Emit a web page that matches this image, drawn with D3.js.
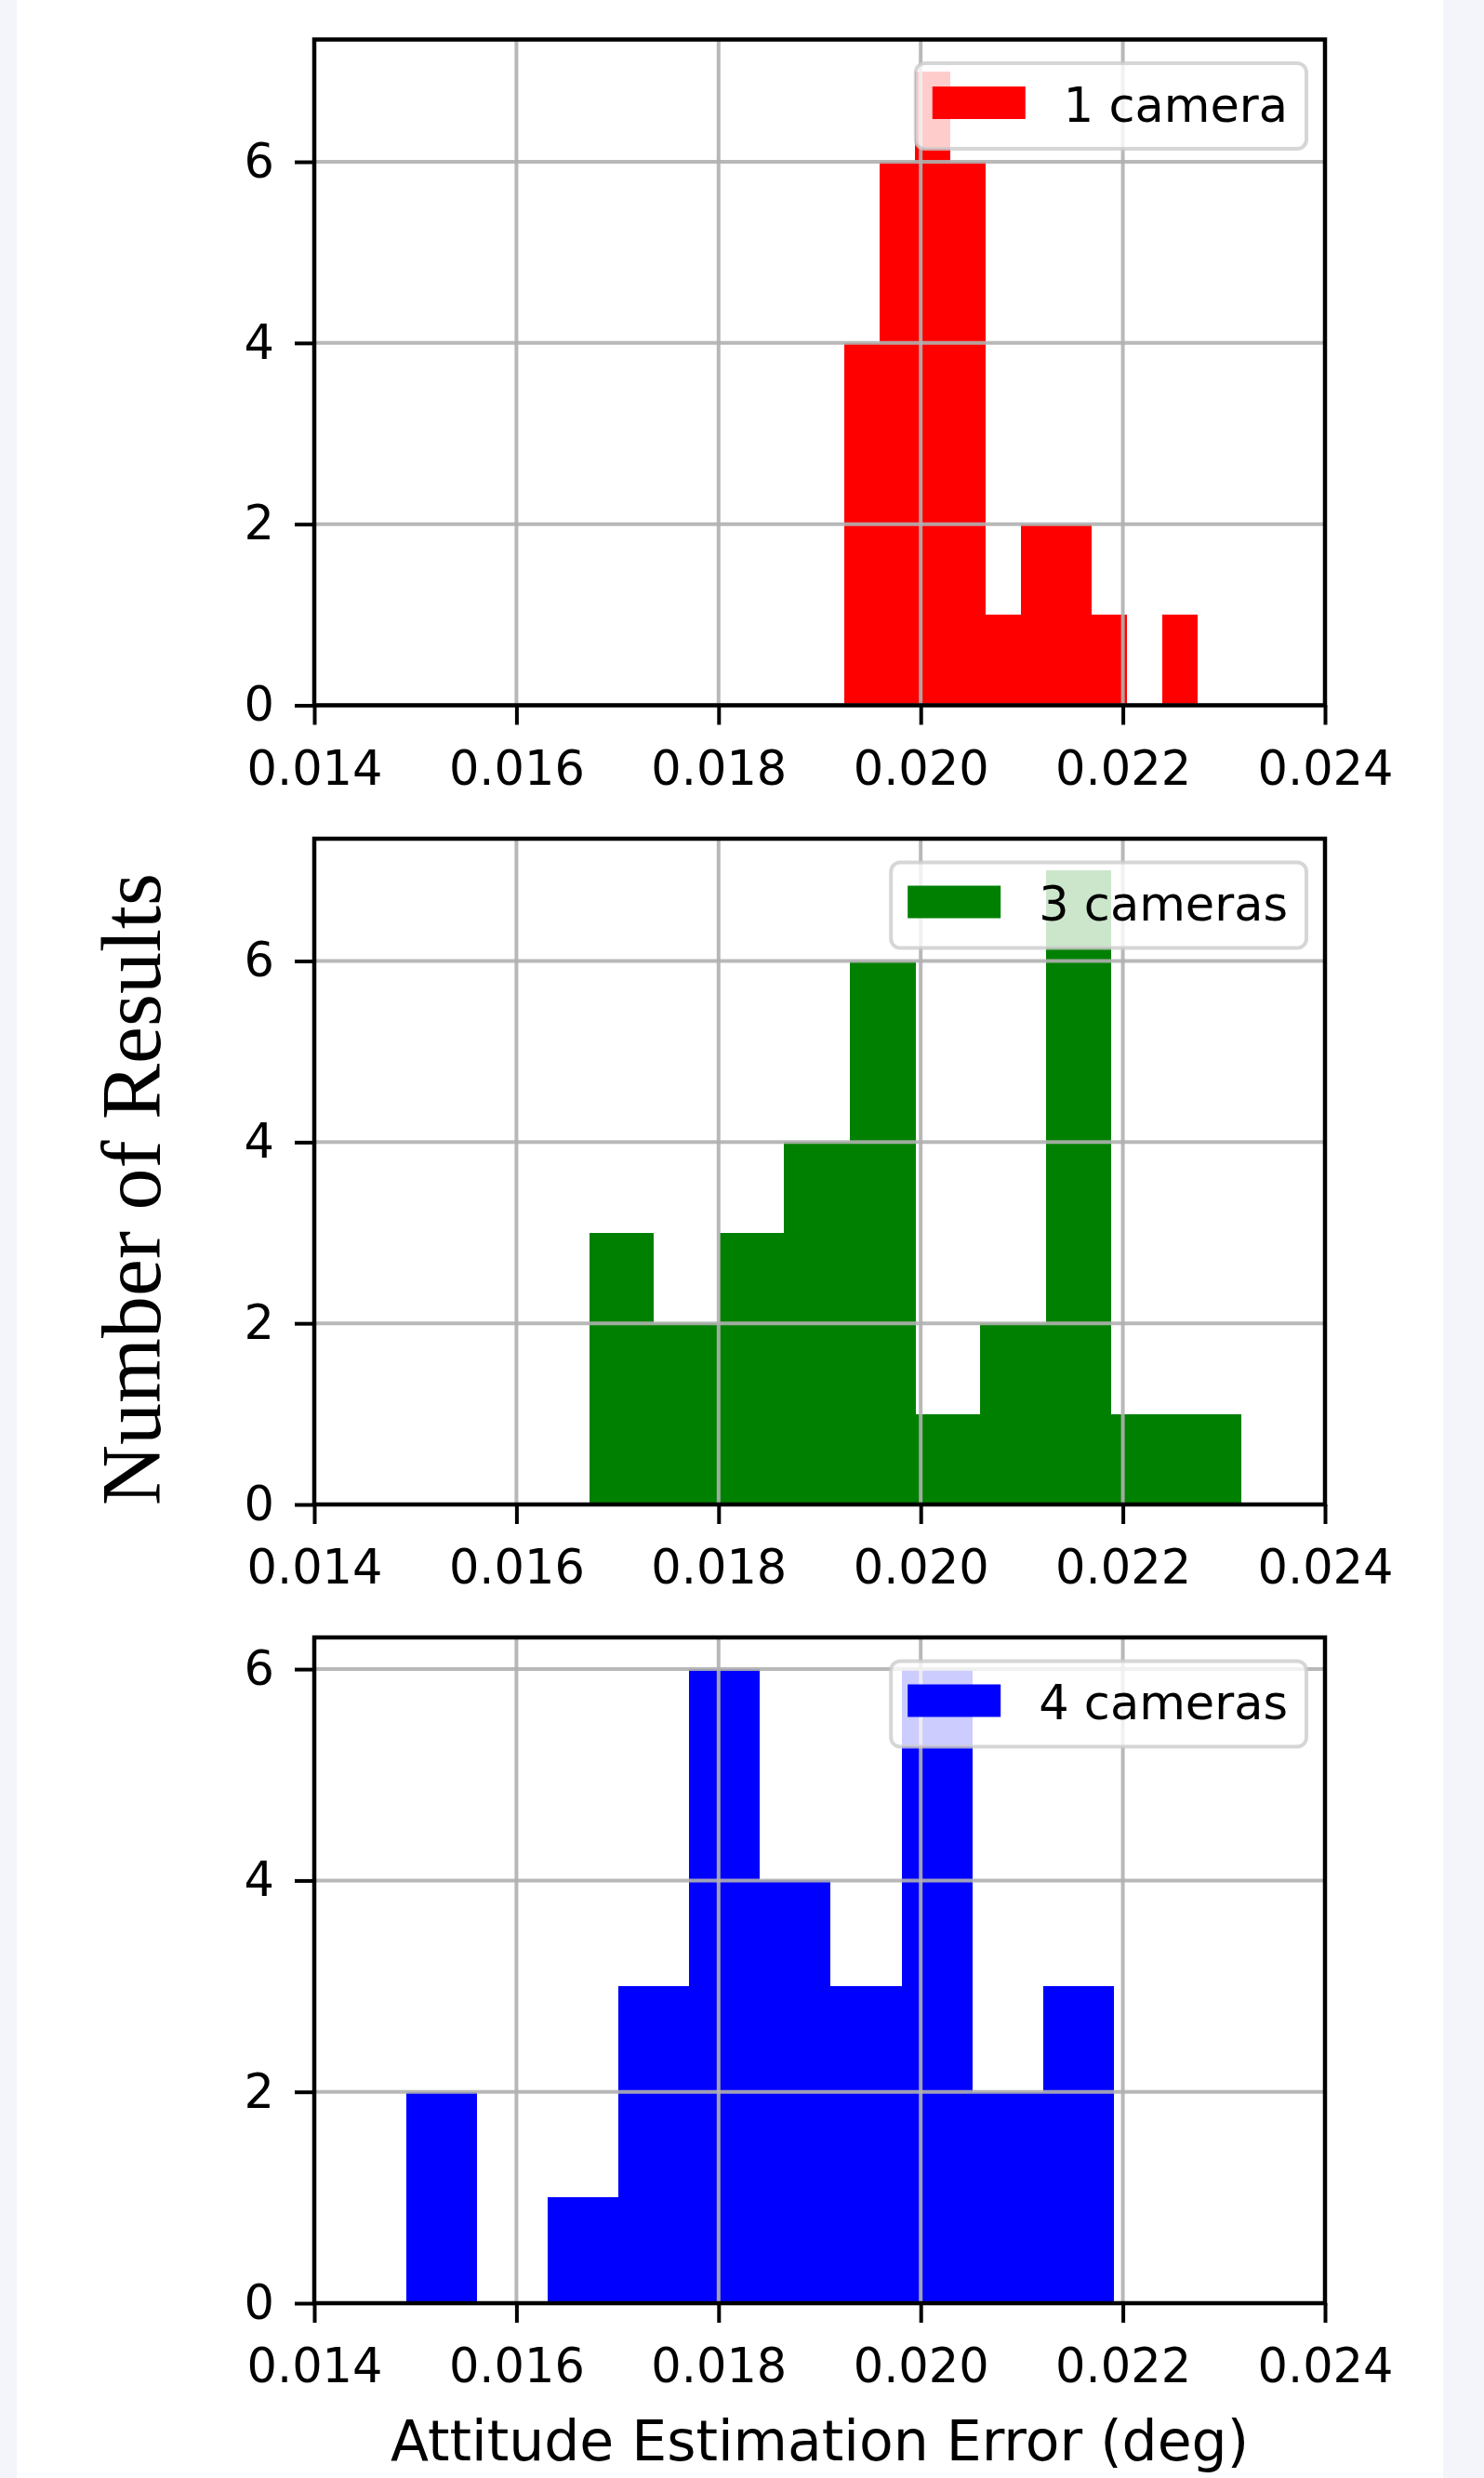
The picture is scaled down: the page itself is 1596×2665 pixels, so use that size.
<!DOCTYPE html>
<html>
<head>
<meta charset="utf-8">
<script src="https://cdnjs.cloudflare.com/ajax/libs/d3/7.8.5/d3.min.js"></script>
<style>
    body { margin: 0; background: #f3f5fb; }
    svg { display: block; }
</style>
</head>
<body>
<div id="graphs_container"></div>
<script>

// histogram bin edges (deg)
var oneCamEdges = [0.01924, 0.01959, 0.01994, 0.02029, 0.02064, 0.02099, 0.02134, 0.02169, 0.02204, 0.02239, 0.02274];
var threeCamEdges = [0.01672, 0.01736, 0.01801, 0.01865, 0.01930, 0.01995, 0.02059, 0.02124, 0.02188, 0.02253, 0.02317];
var fourCamEdges = [0.01491, 0.01561, 0.01631, 0.01701, 0.01771, 0.01841, 0.01911, 0.01981, 0.02051, 0.02121, 0.02191];

// counts per bin
var oneCamCounts = [4, 6, 7, 6, 1, 2, 2, 1, 0, 1];
var threeCamCounts = [3, 2, 3, 4, 6, 1, 2, 7, 1, 1];
var fourCamCounts = [2, 0, 1, 3, 6, 4, 3, 6, 2, 3];

var seriesLabels = ["1 camera", "3 cameras", "4 cameras"];
var seriesColors = ["#ff0000", "#008000", "#0000ff"];

var xTicks = [0.014, 0.016, 0.018, 0.020, 0.022, 0.024];
var yTicks = [0, 2, 4, 6];
var xDomain = [0.014, 0.024];

var xLabel = "Attitude Estimation Error (deg)";
var yLabel = "Number of Results";

var W = 1596, H = 2665;
var axLeft = 338, axWidth = 1087, axHeight = 716;
var axTops = [42.5, 902, 1761];
var tickFont = "'DejaVu Sans', sans-serif";

var svg = d3.select("#graphs_container").append("svg")
    .attr("width", W)
    .attr("height", H);

svg.append("rect")
    .attr("x", 18).attr("y", 0)
    .attr("width", 1534).attr("height", H)
    .attr("fill", "#ffffff");

function drawHist(idx, edges, counts) {
    var top = axTops[idx];
    var ymax = d3.max(counts) * 1.05;

    var x = d3.scaleLinear().domain(xDomain).range([axLeft, axLeft + axWidth]);
    var y = d3.scaleLinear().domain([0, ymax]).range([top + axHeight, top]);

    var g = svg.append("g");

    g.append("rect")
        .attr("x", axLeft).attr("y", top)
        .attr("width", axWidth).attr("height", axHeight)
        .attr("fill", "#ffffff");

    var bins = counts.map(function(c, i) {
        return {x0: edges[i], x1: edges[i + 1], count: c};
    });

    g.selectAll(".bar")
        .data(bins.filter(function(d) { return d.count > 0; }))
        .enter().append("rect")
        .attr("class", "bar")
        .attr("x", function(d) { return Math.round(x(d.x0)); })
        .attr("width", function(d) { return Math.round(x(d.x1)) - Math.round(x(d.x0)); })
        .attr("y", function(d) { return Math.round(y(d.count)); })
        .attr("height", function(d) { return Math.round(y(0)) - Math.round(y(d.count)); })
        .attr("shape-rendering", "crispEdges")
        .attr("fill", seriesColors[idx]);

    // grid over the bars, like the original
    g.selectAll(".vgrid")
        .data(xTicks)
        .enter().append("line")
        .attr("x1", function(d) { return x(d); })
        .attr("x2", function(d) { return x(d); })
        .attr("y1", top).attr("y2", top + axHeight)
        .attr("stroke", "#b0b0b0")
        .attr("stroke-opacity", 0.9)
        .attr("stroke-width", 4);

    g.selectAll(".hgrid")
        .data(yTicks)
        .enter().append("line")
        .attr("x1", axLeft).attr("x2", axLeft + axWidth)
        .attr("y1", function(d) { return y(d); })
        .attr("y2", function(d) { return y(d); })
        .attr("stroke", "#b0b0b0")
        .attr("stroke-opacity", 0.9)
        .attr("stroke-width", 4);

    // axes
    var xAxis = g.append("g")
        .attr("transform", "translate(0," + (top + axHeight) + ")")
        .call(d3.axisBottom(x).tickValues(xTicks).tickFormat(d3.format(".3f"))
            .tickSizeInner(21).tickSizeOuter(0).tickPadding(28));
    var yAxis = g.append("g")
        .attr("transform", "translate(" + axLeft + ",0)")
        .call(d3.axisLeft(y).tickValues(yTicks).tickFormat(d3.format("d"))
            .tickSizeInner(21).tickSizeOuter(0).tickPadding(22));

    [xAxis, yAxis].forEach(function(a) {
        a.select(".domain").remove();
        a.selectAll(".tick line").attr("stroke", "#000").attr("stroke-width", 4);
        a.selectAll(".tick text")
            .attr("fill", "#000")
            .style("font-family", tickFont)
            .style("font-size", "51px");
    });

    g.append("rect")
        .attr("x", axLeft).attr("y", top)
        .attr("width", axWidth).attr("height", axHeight)
        .attr("fill", "none")
        .attr("stroke", "#000")
        .attr("stroke-width", 4.5);

    // legend, upper right
    var leg = g.append("g");
    var legText = leg.append("text")
        .attr("font-family", tickFont)
        .attr("font-size", 51)
        .attr("fill", "#000")
        .text(seriesLabels[idx]);
    var tw = legText.node().getComputedTextLength();
    var boxW = 18 + 100 + 41 + tw + 20;
    var boxH = 92;
    var bx = axLeft + axWidth - 20 - boxW;
    var by = top + 25.5;

    leg.insert("rect", "text")
        .attr("x", bx).attr("y", by)
        .attr("width", boxW).attr("height", boxH)
        .attr("rx", 10).attr("ry", 10)
        .attr("fill", "#ffffff")
        .attr("fill-opacity", 0.8)
        .attr("stroke", "#cccccc")
        .attr("stroke-opacity", 0.8)
        .attr("stroke-width", 4);
    leg.insert("rect", "text")
        .attr("x", bx + 18).attr("y", by + 25)
        .attr("width", 100).attr("height", 35)
        .attr("fill", seriesColors[idx]);
    legText
        .attr("x", bx + 18 + 100 + 41)
        .attr("y", by + 62.5);
}

drawHist(0, oneCamEdges, oneCamCounts);
drawHist(1, threeCamEdges, threeCamCounts);
drawHist(2, fourCamEdges, fourCamCounts);

svg.append("text")
    .attr("x", axLeft + axWidth / 2)
    .attr("y", 2646)
    .attr("text-anchor", "middle")
    .attr("font-family", tickFont)
    .attr("font-size", 60)
    .attr("fill", "#000")
    .text(xLabel);

svg.append("text")
    .attr("transform", "translate(172,1279) rotate(-90)")
    .attr("text-anchor", "middle")
    .attr("font-family", "'Liberation Serif', 'DejaVu Serif', serif")
    .attr("font-size", 90)
    .attr("fill", "#000")
    .text(yLabel);

</script>
</body>
</html>
